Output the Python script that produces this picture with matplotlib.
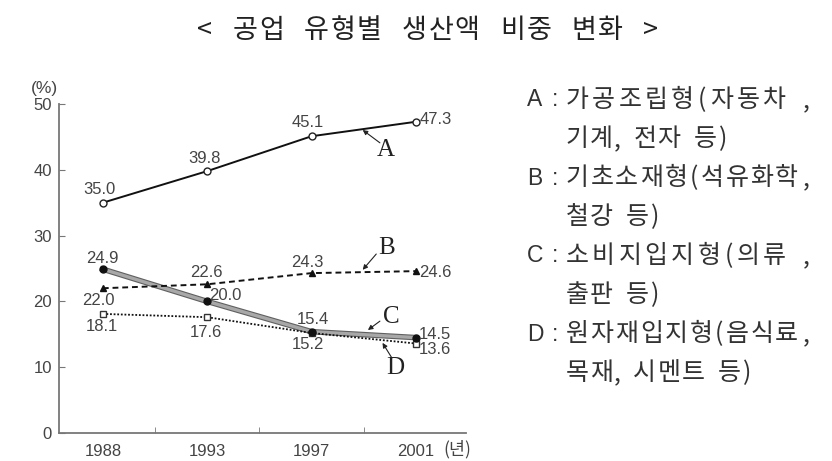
import matplotlib
matplotlib.use('Agg')
import matplotlib.pyplot as plt

plt.rcParams['font.family'] = ['Liberation Sans Narrow', 'Liberation Sans', 'DejaVu Sans']

# 데이터
anos = ['1988', '1993', '1997', '2001']
serie_a = [35.0, 39.8, 45.1, 47.3]
serie_b = [22.0, 22.6, 24.3, 24.6]
serie_c = [24.9, 20.0, 15.4, 14.5]
serie_d = [18.1, 17.6, 15.2, 13.6]
titulo = '< 공업 유형별 생산액 비중 변화 >'
letras_leg = ['A', '', 'B', '', 'C', '', 'D', '']
legenda = ['가공조립형(자동차,', '기계, 전자 등)',
           '기초소재형(석유화학,', '철강 등)',
           '소비지입지형(의류,', '출판 등)',
           '원자재입지형(음식료,', '목재, 시멘트 등)']

W, H = 832, 461
cinza = '#444444'
kr = ['Noto Sans CJK KR', 'DejaVu Sans']
fig = plt.figure(figsize=(W / 100, H / 100), dpi=100)
ax = fig.add_axes([59 / W, 28 / H, 407 / W, 329 / H])

x = list(range(len(anos)))
ax.plot(x, serie_a, color='#111111', lw=1.4, marker='o', ms=5, mfc='white', mec='#222222', zorder=4)
ax.plot(x, serie_b, color='#111111', lw=1.4, ls=(0, (3, 2)), marker='^', ms=4.5, mfc='#111111', mec='#111111', zorder=4)
ax.plot(x, serie_c, color='#606060', lw=4.0, zorder=2)
ax.plot(x, serie_c, color='#a8a8a8', lw=2.4, zorder=3)
ax.plot(x, serie_c, ls='none', marker='o', ms=5, mfc='#111111', mec='#111111', zorder=5)
ax.plot(x, serie_d, color='#111111', lw=1.3, ls=(0, (1, 1)), marker='s', ms=4.5, mfc='white', mec='#333333', zorder=4)


def rotulo(serie, i, dx, dy, ha='center'):
    ax.annotate('%.1f' % serie[i], (i, serie[i]), xytext=(dx, dy), textcoords='offset pixels',
                ha=ha, va='center', fontsize=12, color=cinza, zorder=6)


# A
rotulo(serie_a, 0, -3, 13)
rotulo(serie_a, 1, -3, 13)
rotulo(serie_a, 2, -4, 14)
rotulo(serie_a, 3, 4, 2, 'left')
# B
rotulo(serie_b, 0, -4, -12)
rotulo(serie_b, 1, -1, 12)
rotulo(serie_b, 2, -4, 11)
rotulo(serie_b, 3, 3, -1, 'left')
# C
rotulo(serie_c, 0, 0, 11)
rotulo(serie_c, 1, 2, 6, 'left')
rotulo(serie_c, 2, 1, 12)
rotulo(serie_c, 3, 3, 3, 'left')
# D
rotulo(serie_d, 0, -1, -13)
rotulo(serie_d, 1, -1, -15)
rotulo(serie_d, 2, -4, -12)
rotulo(serie_d, 3, 3, -6, 'left')

# letras com setas: (letra, ponta da seta, cauda da seta, centro da letra)
seta = dict(arrowstyle='-|>', color='#222222', lw=0.8, mutation_scale=7, shrinkA=0, shrinkB=0)
letras = [('A', (2.49, 46.05), (2.655, 44.1), (2.71, 43.0)),
          ('B', (2.49, 24.8), (2.62, 27.2), (2.72, 28.1)),
          ('C', (2.54, 15.65), (2.655, 17.0), (2.76, 17.6)),
          ('D', (2.68, 13.7), (2.77, 11.4), (2.80, 9.9))]
for nome, ponta, cauda, centro in letras:
    ax.annotate('', ponta, xytext=cauda, arrowprops=seta)
    ax.text(centro[0], centro[1], nome, fontsize=18, family='Liberation Serif', color='#222222',
            ha='center', va='center')

ax.set_xlim(-0.42, 3.48)
ax.set_ylim(0, 50)
ax.set_xticks(x)
ax.set_xticklabels(anos)
ax.set_xticks([0.5, 1.5, 2.5], minor=True)
ax.tick_params(axis='x', which='major', length=0, labelsize=12, labelcolor=cinza, pad=8)
ax.tick_params(axis='x', which='minor', direction='in', length=4, color='#777777')
ax.set_yticks([0, 10, 20, 30, 40, 50])
ax.tick_params(axis='y', direction='in', length=4, color='#777777', labelsize=12, labelcolor=cinza, pad=5)
for lado in ['top', 'right']:
    ax.spines[lado].set_visible(False)
for lado in ['left', 'bottom']:
    ax.spines[lado].set_color('#777777')
    ax.spines[lado].set_linewidth(1.3)

fig.text(31 / W, 1 - 88 / H, '(%)', fontsize=12.5, color=cinza, ha='left', va='center')
fig.text(443 / W, 1 - 449 / H, '(년)', fontsize=12.5, color=cinza, ha='left', va='center', family=kr)


def eh_hangul(c):
    return '\uac00' <= c <= '\ud7a3'


def escreve(texto, x0, y, fs, adv_h, adv, alvo=None, cor='#333333'):
    # escreve caractere por caractere, com espaçamento largo como no original
    larg = [adv_h if eh_hangul(c) else adv.get(c, adv_h * 0.5) for c in texto]
    extra, extra_virg = 0, 0
    if alvo is not None:
        sobra = alvo - x0 - sum(larg[:-1])
        extra_virg = sobra / 2
        extra = (sobra / 2) / (len(texto) - 2)
    pos = x0
    for n, (c, w) in enumerate(zip(texto, larg)):
        if alvo is not None and n == len(texto) - 1:
            pos += extra_virg - extra
        if c != ' ':
            fig.text((pos + w / 2) / W, 1 - y / H, c, fontsize=fs, color=cor, ha='center', va='center',
                     family=kr)
        pos += w + extra


escreve(titulo, 195, 30, 19.5, 26.5, {'<': 18, '>': 18, ' ': 18.5}, cor='#222222')

adv_leg = {'(': 11, ')': 11, ',': 7, ' ': 12}
for k, linha in enumerate(legenda):
    y = 100 + 39 * k
    if letras_leg[k]:
        fig.text(527 / W, 1 - y / H, letras_leg[k], fontsize=16.5, color='#333333', ha='left', va='center',
                 family=['Liberation Sans', 'DejaVu Sans'])
        fig.text(555 / W, 1 - y / H, ':', fontsize=16.5, color='#333333', ha='center', va='center',
                 family=['Liberation Sans', 'DejaVu Sans'])
        escreve(linha, 565, y, 18, 24.3, adv_leg, alvo=803)
    else:
        escreve(linha, 565, y, 18, 24.3, adv_leg)

fig.savefig('out.png', dpi=100)
